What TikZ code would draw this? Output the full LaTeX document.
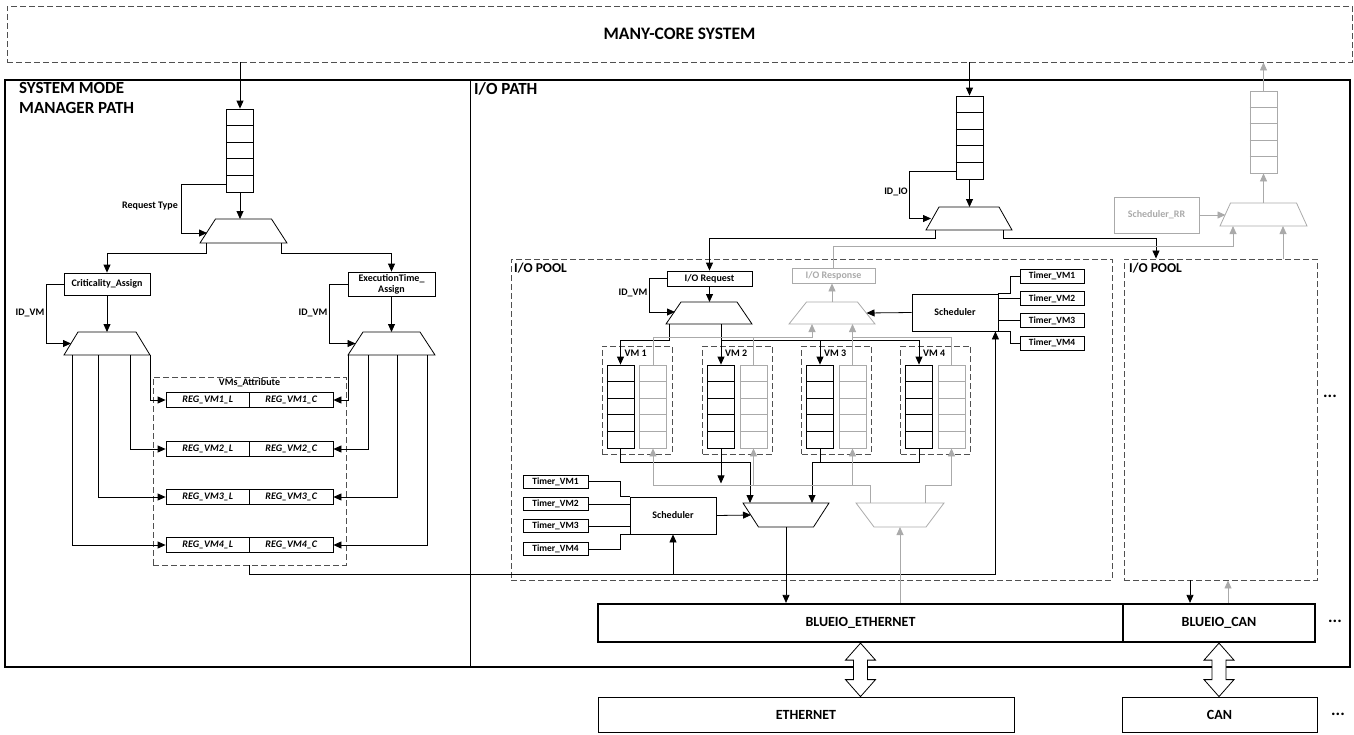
\documentclass[tikz,border=0pt]{standalone}
\usepackage{fontspec}
\setmainfont{Carlito}
\usetikzlibrary{arrows.meta,calc}
\definecolor{lg}{RGB}{170,170,170}
\definecolor{dg}{RGB}{80,80,80}
\newcommand\qcells[2][black]{\foreach \k in {1,...,4}{\draw[line width=0.8pt,#1] ($(#2.north west)!\k/5!(#2.south west)$) -- ($(#2.north east)!\k/5!(#2.south east)$);}}
\newcommand\dblarr[2]{\draw[line width=0.8pt, fill=white] (#1) -- ++(15,17) -- ++(-8,0) -- ($(#2)+(7,-17)$) -- ++(8,0) -- (#2) -- ++(-15,-17) -- ++(8,0) -- ($(#1)+(-7,17)$) -- ++(-8,0) -- cycle;}
% mux wide at bottom: [colour]{name}{x}{y}{w}{h}{offset}
\newcommand\muxup[7][black]{\node[minimum width=#5pt, minimum height=#6pt, outer sep=0pt] (#2) at (#3,#4) {};
  \draw[line width=0.8pt,#1] (#2.south west) -- ($(#2.north west)+(#7,0)$) -- ($(#2.north east)+(-#7,0)$) -- (#2.south east) -- cycle;}
% mux wide at top
\newcommand\muxdn[7][black]{\node[minimum width=#5pt, minimum height=#6pt, outer sep=0pt] (#2) at (#3,#4) {};
  \draw[line width=0.8pt,#1] (#2.north west) -- (#2.north east) -- ($(#2.south east)+(-#7,0)$) -- ($(#2.south west)+(#7,0)$) -- cycle;}
\begin{document}
\begin{tikzpicture}[x=1pt,y=-1pt,
  every node/.style={inner sep=0pt, font=\bfseries\fontsize{10}{12}\selectfont},
  ln/.style={line width=0.8pt},
  arr/.style={ln,-{Triangle[length=8pt,width=7pt]}},
  box/.style={draw, ln, align=center},
  dbox/.style={draw=dg, line width=0.9pt, dash pattern=on 6pt off 3pt},
  queue/.style={draw, ln, minimum width=27pt, minimum height=83pt},
  tim/.style={box, minimum width=64pt, minimum height=14pt, font=\bfseries\fontsize{9.5}{11}\selectfont},
  reg/.style={box, minimum width=83.5pt, minimum height=15pt, font=\bfseries\itshape\fontsize{10}{12}\selectfont},
  big/.style={font=\bfseries\fontsize{14}{16}\selectfont},
  pl/.style={font=\bfseries\fontsize{13.5}{16}\selectfont},
  dots/.style={font=\bfseries\fontsize{17}{20}\selectfont},
]
\useasboundingbox (0,0) rectangle (1354,734);

% ---------- many-core and frame
\node[dbox, minimum width=1345pt, minimum height=56pt, font=\bfseries\fontsize{17.5}{20}\selectfont] (mc) at (679.5,34) {MANY-CORE SYSTEM};
\node[draw, line width=2.8pt, minimum width=1345pt, minimum height=587pt] (frame) at (677.5,373.5) {};
\draw[ln] (470,80) -- (470,667);
\node[anchor=north west, align=left, font=\bfseries\fontsize{17}{20}\selectfont] (smm) at (19,82) {SYSTEM MODE\\MANAGER PATH};
\node[anchor=north west, font=\bfseries\fontsize{17}{20}\selectfont] (iop) at (474,82) {I/O PATH};

% ---------- system mode manager path
\node[queue] (ql) at (240,150.5) {}; \qcells{ql}
\draw[arr] (ql.north |- mc.south) -- (ql.north);
\muxup{m1}{243.5}{231}{87}{24}{15.5}
\draw[arr] (ql.south) -- (ql.south |- m1.north);
\coordinate (rtin) at ($(m1.center)+(-36.5,2)$);
\draw[arr] ($(ql.south west)+(0,-8.3)$) -- ++(-45,0) |- (rtin);
\node (rt) at (150,206) {Request Type};

\node[box, minimum width=86pt, minimum height=22pt] (crit) at (107,284) {Criticality\_Assign};
\node[box, minimum width=87pt, minimum height=24pt, font=\bfseries\fontsize{10}{11}\selectfont] (exe) at (391.5,284) {ExecutionTime\_\\Assign};
\draw[arr] ($(m1.center)+(-37.5,12)$) -- ++(0,10) -| (crit.north);
\draw[arr] ($(m1.center)+(37.5,12)$) -- ++(0,10) -| (exe.north);

\muxup{m2}{107}{343.5}{86}{23}{14}
\muxup{m3}{391.5}{343.5}{87}{23}{15}
\draw[arr] (crit.south) -- (crit.south |- m2.north);
\draw[arr] (exe.south) -- (exe.south |- m3.north);
\coordinate (m2in) at ($(m2.center)+(-36,0)$);
\coordinate (m3in) at ($(m3.center)+(-36,0)$);
\draw[arr] (crit.west) -- ++(-17,0) |- (m2in);
\draw[arr] (exe.west) -- ++(-18,0) |- (m3in);
\node (idvm1) at (30,313) {ID\_VM};
\node (idvm2) at (313,313) {ID\_VM};

\node[dbox, minimum width=193pt, minimum height=188pt] (vma) at (249.5,471) {};
\node[anchor=north] (vmat) at (249.5,378) {VMs\_Attribute};
\foreach \i/\y in {1/400,2/449,3/497,4/545} {
  \node[reg] (rL\i) at (207.75,\y) {REG\_VM\i\_L};
  \node[reg] (rC\i) at (291.25,\y) {REG\_VM\i\_C};
}
\draw[arr] ($(m2.center)+(43,11.5)$) |- (rL1.west);
\draw[arr] ($(m2.center)+(23,11.5)$) |- (rL2.west);
\draw[arr] ($(m2.center)+(-9,11.5)$) |- (rL3.west);
\draw[arr] ($(m2.center)+(-35,11.5)$) |- (rL4.west);
\draw[arr] ($(m3.center)+(-43.5,11.5)$) |- (rC1.east);
\draw[arr] ($(m3.center)+(-23.5,11.5)$) |- (rC2.east);
\draw[arr] ($(m3.center)+(5.5,11.5)$) |- (rC3.east);
\draw[arr] ($(m3.center)+(35.5,11.5)$) |- (rC4.east);

% ---------- I/O path pools
\node[dbox, minimum width=601pt, minimum height=321pt] (pool1) at (811.5,419.5) {};
\node[anchor=north west, pl] (p1l) at (514,263) {I/O POOL};
\node[dbox, minimum width=193pt, minimum height=321pt] (pool2) at (1220.5,419.5) {};
\node[anchor=north west, pl] (p2l) at (1129,263) {I/O POOL};
\node[dots] (dots1) at (1330,396) {...};

% ---------- I/O path top
\node[queue] (qio) at (969.5,137.5) {}; \qcells{qio}
\draw[arr] (qio.north |- mc.south) -- (qio.north);
\muxup{m4}{969}{218.5}{86}{23}{13}
\draw[arr] (qio.south) -- (qio.south |- m4.north);
\coordinate (m4in) at ($(m4.center)+(-38,0)$);
\draw[arr] ($(qio.south west)+(0,-8.3)$) -- ++(-46,0) |- (m4in);
\node (idio) at (896,192) {ID\_IO};

\node[box, minimum width=85pt, minimum height=15pt] (ioreq) at (709.5,278.5) {I/O Request};
\draw[arr] ($(m4.center)+(-34,11.5)$) -- ++(0,8) -| (ioreq.north);
\draw[arr] ($(m4.center)+(34,11.5)$) -- ++(0,8) -| ($(pool2.north)+(-64.5,0)$);
\muxup{m5}{709}{313}{86}{22}{15}
\draw[arr] (ioreq.south) -- (ioreq.south |- m5.north);
\coordinate (m5in) at ($(m5.center)+(-34,-1)$);
\draw[arr] (ioreq.west) -- ++(-17,0) |- (m5in);
\node (idvm3) at (633,293) {ID\_VM};

% ---------- VMs
\foreach \i/\x in {1/620.5,2/721,3/820,4/919} {
  \node[dbox, minimum width=70pt, minimum height=108pt] (vm\i) at (\x+16.5,400) {};
  \node[queue] (q\i) at (\x,406.5) {};
  \node[queue, draw=lg] (g\i) at (\x+32.5,406.5) {};
  \node[anchor=west] (vml\i) at (\x+4,353) {VM \i};
}
\foreach \i in {1,...,4} {\qcells{q\i}\qcells[lg]{g\i}}

\coordinate (dY) at (0,340);
\draw[arr] ($(m5.center)+(-40,11)$) |- (dY -| q1.north) -- (q1.north);
\draw[arr] (q2.north |- m5.south) -- (q2.north);
\draw[ln] (dY -| q2.north) -- (dY -| q4.north);
\draw[arr] (dY -| q3.north) -- (q3.north);
\draw[arr] (dY -| q4.north) -- (q4.north);

% gray response side (top)
\muxup[lg]{mg1}{832}{313}{86}{22}{17.5}
\node[box, draw=lg, text=lg, minimum width=83pt, minimum height=15pt] (iores) at (833.5,275.5) {I/O Response};
\draw[arr, lg] (mg1.north) -- (mg1.north |- iores.south);
\coordinate (gtY) at (0,337.5);
\coordinate (mg1a) at ($(mg1.center)+(-20,11)$);
\coordinate (mg1b) at ($(mg1.center)+(20.5,11)$);
\draw[ln, lg] (g1.north) |- (gtY -| mg1a);
\draw[ln, lg] (g2.north) -- (g2.north |- gtY);
\draw[arr, lg] (gtY -| mg1a) -- (mg1a);
\draw[arr, lg] (g3.north) -- (g3.north |- mg1b);
\draw[ln, lg] (g4.north) |- (gtY -| g3.north);

% gray right side
\muxup[lg]{mg2}{1263.5}{214.5}{87}{23}{10.5}
\coordinate (mg2a) at ($(mg2.center)+(-30.5,11.5)$);
\coordinate (mg2b) at ($(mg2.center)+(19.5,11.5)$);
\coordinate (grY) at (0,246);
\draw[arr, lg] (iores.north) |- (grY -| mg2a) -- (mg2a);
\draw[arr, lg] (pool2.north -| mg2b) -- (mg2b);
\node[box, draw=lg, text=lg, minimum width=85pt, minimum height=36pt] (srr) at (1156.5,215) {Scheduler\_RR};
\coordinate (mg2in) at ($(mg2.center)+(-38,0.5)$);
\draw[arr, lg] (srr.east) -- (mg2in);
\node[queue, draw=lg, minimum height=82pt] (qrr) at (1263.5,132) {}; \qcells[lg]{qrr}
\draw[arr, lg] (mg2.north) -- (qrr.south);
\draw[arr, lg] (qrr.north) -- (qrr.north |- mc.south);

% top scheduler
\node[box, minimum width=86pt, minimum height=37pt] (schT) at (955,312.5) {Scheduler};
\coordinate (mg1in) at ($(mg1.center)+(34.5,0)$);
\draw[arr] (schT.west) -- (mg1in);
\foreach \i/\y in {1/276,2/298.5,3/320.5,4/343} \node[tim] (tt\i) at (1052,\y) {Timer\_VM\i};
\draw[ln] (tt1.west) -- ++(-9,0) |- (schT.north east);
\draw[ln] (tt2.west) -- (tt2.west -| schT.east);
\draw[ln] (tt3.west) -- (tt3.west -| schT.east);
\draw[ln] (tt4.west) -- ++(-9,0) |- (schT.south east);

% bottom scheduler
\node[box, minimum width=86pt, minimum height=37pt] (schB) at (673,515.5) {Scheduler};
\foreach \i/\y in {1/481.5,2/504,3/526,4/549} \node[tim, minimum width=65pt, minimum height=13pt] (tb\i) at (555.5,\y) {Timer\_VM\i};
\draw[ln] (tb1.east) -- ++(32,0) |- (schB.north west);
\draw[ln] (tb2.east) -- (tb2.east -| schB.west);
\draw[ln] (tb3.east) -- (tb3.east -| schB.west);
\draw[ln] (tb4.east) -- ++(32,0) |- (schB.south west);

% bus from VMs_Attribute
\coordinate (busY) at (0,574);
\coordinate (schTin) at ($(schT.south east)+(-3,0)$);
\draw[arr] (vma.south) |- (busY -| schTin) -- (schTin);
\draw[arr] (busY -| schB.south) -- (schB.south);

% bottom muxes
\muxdn{mb}{786}{515}{86}{24}{15.5}
\coordinate (mbin) at ($(mb.center)+(-35,0)$);
\draw[arr] (schB.east) -- (mbin);
\coordinate (mba) at ($(mb.center)+(-36,-12)$);
\coordinate (mbb) at ($(mb.center)+(26,-12)$);
\coordinate (lY) at (0,462);
\draw[arr] (q1.south) |- (lY -| mba) -- (mba);
\draw[arr] (q2.south) -- ++(0,35);
\draw[ln] (q3.south) -- (q3.south |- lY);
\draw[arr] (q4.south) |- (lY -| mbb) -- (mbb);

\muxdn[lg]{mgb}{900}{515}{88}{24}{18}
\coordinate (mgba) at ($(mgb.center)+(-30,-12)$);
\coordinate (mgbb) at ($(mgb.center)+(25,-12)$);
\coordinate (gbY) at (0,485);
\draw[ln,lg] (mgba) |- (gbY -| g1.south);
\draw[arr,lg] (gbY -| g1.south) -- (g1.south);
\draw[arr,lg] (gbY -| g2.south) -- (g2.south);
\draw[arr,lg] (gbY -| g3.south) -- (g3.south);
\draw[arr,lg] (mgbb) |- (gbY -| g4.south) -- (g4.south);

% BLUEIO
\node[draw, line width=2.2pt, minimum width=525pt, minimum height=38pt, big] (bluee) at (860.5,623) {BLUEIO\_ETHERNET};
\node[draw, line width=2.2pt, minimum width=192pt, minimum height=38pt, big] (bluec) at (1219,623) {BLUEIO\_CAN};
\node[dots] (dots2) at (1335,621) {...};
\coordinate (mbo) at ($(mb.center)+(0,12)$);
\draw[arr] (mbo) -- (bluee.north -| mbo);
\coordinate (mgbo) at ($(mgb.center)+(0,12)$);
\draw[arr,lg] (bluee.north -| mgbo) -- (mgbo);
\coordinate (pca) at ($(pool2.south)+(-30.5,0)$);
\draw[arr] (pca) -- (pca |- bluec.north);
\coordinate (pcb) at ($(pool2.south)+(7.5,0)$);
\draw[arr,lg] (pcb |- bluec.north) -- (pcb);

% external
\node[box, minimum width=416pt, minimum height=35pt, big] (eth) at (806,714.5) {ETHERNET};
\node[box, minimum width=195pt, minimum height=35pt, big] (can) at (1219.5,714.5) {CAN};
\node[dots] (dots3) at (1338,714) {...};
\coordinate (ea) at (bluee.south);
\coordinate (eb) at (eth.north -| bluee.south);
\dblarr{ea}{eb}
\coordinate (ca) at (bluec.south);
\coordinate (cb) at (can.north -| bluec.south);
\dblarr{ca}{cb}
\end{tikzpicture}
\end{document}
